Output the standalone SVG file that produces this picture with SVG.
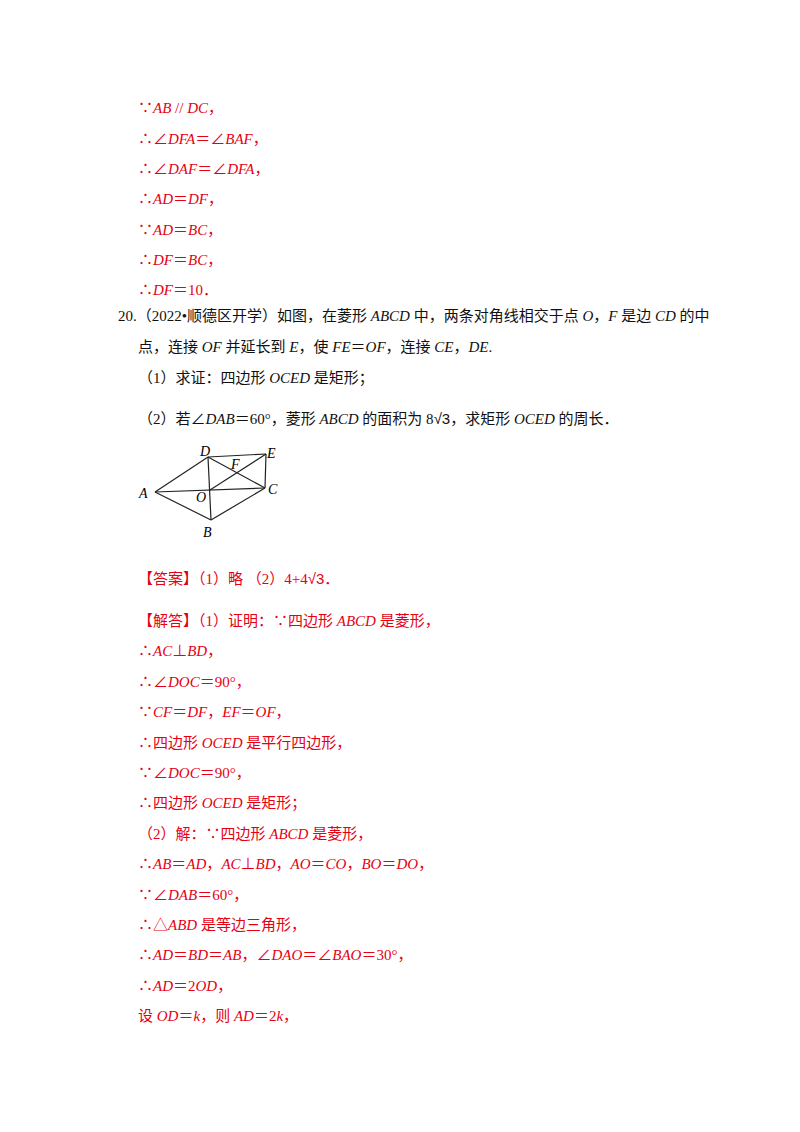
<svg xmlns="http://www.w3.org/2000/svg" width="800" height="1132" viewBox="0 0 800 1132">
<style>
text{font-family:"Liberation Serif","Noto Sans CJK SC",serif;font-size:15px}
.r{fill:#e60012}.k{fill:#111}
.i{font-style:italic}
.fig line{stroke:#222;stroke-width:1.2}
.lb{font-size:14px;font-style:italic}
</style>
<rect width="800" height="1132" fill="#fff"/>
<g class="r">
<text x="138" y="113">∵<tspan class="i">AB</tspan> // <tspan class="i">DC</tspan>，</text>
<text x="138" y="144">∴∠<tspan class="i">DFA</tspan>＝∠<tspan class="i">BAF</tspan>，</text>
<text x="138" y="174">∴∠<tspan class="i">DAF</tspan>＝∠<tspan class="i">DFA</tspan>，</text>
<text x="138" y="204">∴<tspan class="i">AD</tspan>＝<tspan class="i">DF</tspan>，</text>
<text x="138" y="235">∵<tspan class="i">AD</tspan>＝<tspan class="i">BC</tspan>，</text>
<text x="138" y="265">∴<tspan class="i">DF</tspan>＝<tspan class="i">BC</tspan>，</text>
<text x="138" y="295">∴<tspan class="i">DF</tspan>＝10．</text>
</g>
<g class="k">
<text x="118" y="321">20.（2022•顺德区开学）如图，在菱形 <tspan class="i">ABCD</tspan> 中，两条对角线相交于点 <tspan class="i">O</tspan>，<tspan class="i">F</tspan> 是边 <tspan class="i">CD</tspan> 的中</text>
<text x="138" y="352">点，连接 <tspan class="i">OF</tspan> 并延长到 <tspan class="i">E</tspan>，使 <tspan class="i">FE</tspan>＝<tspan class="i">OF</tspan>，连接 <tspan class="i">CE</tspan>，<tspan class="i">DE</tspan>.</text>
<text x="138" y="383">（1）求证：四边形 <tspan class="i">OCED</tspan> 是矩形；</text>
<text x="138" y="424">（2）若∠<tspan class="i">DAB</tspan>＝60°，菱形 <tspan class="i">ABCD</tspan> 的面积为 8<tspan font-family="Liberation Sans">√3</tspan>，求矩形 <tspan class="i">OCED</tspan> 的周长．</text>
</g>
<g id="figure" class="fig">
<line x1="155" y1="492" x2="208" y2="457"/>
<line x1="155" y1="492" x2="211" y2="520"/>
<line x1="211" y1="520" x2="265" y2="488"/>
<line x1="208" y1="457" x2="265" y2="488"/>
<line x1="208" y1="457" x2="266" y2="454"/>
<line x1="266" y1="454" x2="265" y2="488"/>
<line x1="155" y1="492" x2="265" y2="488"/>
<line x1="208" y1="457" x2="211" y2="520"/>
<line x1="210" y1="490" x2="266" y2="454"/>
<text class="lb" x="139" y="498">A</text>
<text class="lb" x="200" y="456">D</text>
<text class="lb" x="267" y="458">E</text>
<text class="lb" x="231" y="469">F</text>
<text class="lb" x="196" y="502">O</text>
<text class="lb" x="268" y="494">C</text>
<text class="lb" x="203" y="537">B</text>
</g>
<g class="r">
<text x="138" y="584">【答案】（1）略 （2）4+4<tspan font-family="Liberation Sans">√3</tspan>．</text>
<text x="138" y="626">【解答】（1）证明：∵四边形 <tspan class="i">ABCD</tspan> 是菱形，</text>
<text x="138" y="656">∴<tspan class="i">AC</tspan>⊥<tspan class="i">BD</tspan>，</text>
<text x="138" y="687">∴∠<tspan class="i">DOC</tspan>＝90°，</text>
<text x="138" y="717">∵<tspan class="i">CF</tspan>＝<tspan class="i">DF</tspan>，<tspan class="i">EF</tspan>＝<tspan class="i">OF</tspan>，</text>
<text x="138" y="748">∴四边形 <tspan class="i">OCED</tspan> 是平行四边形，</text>
<text x="138" y="778">∵∠<tspan class="i">DOC</tspan>＝90°，</text>
<text x="138" y="808">∴四边形 <tspan class="i">OCED</tspan> 是矩形；</text>
<text x="138" y="839">（2）解：∵四边形 <tspan class="i">ABCD</tspan> 是菱形，</text>
<text x="138" y="869">∴<tspan class="i">AB</tspan>＝<tspan class="i">AD</tspan>，<tspan class="i">AC</tspan>⊥<tspan class="i">BD</tspan>，<tspan class="i">AO</tspan>＝<tspan class="i">CO</tspan>，<tspan class="i">BO</tspan>＝<tspan class="i">DO</tspan>，</text>
<text x="138" y="900">∵∠<tspan class="i">DAB</tspan>＝60°，</text>
<text x="138" y="930">∴△<tspan class="i">ABD</tspan> 是等边三角形，</text>
<text x="138" y="960">∴<tspan class="i">AD</tspan>＝<tspan class="i">BD</tspan>＝<tspan class="i">AB</tspan>，∠<tspan class="i">DAO</tspan>＝∠<tspan class="i">BAO</tspan>＝30°，</text>
<text x="138" y="991">∴<tspan class="i">AD</tspan>＝2<tspan class="i">OD</tspan>，</text>
<text x="138" y="1021">设 <tspan class="i">OD</tspan>＝<tspan class="i">k</tspan>，则 <tspan class="i">AD</tspan>＝2<tspan class="i">k</tspan>，</text>
</g>
</svg>
